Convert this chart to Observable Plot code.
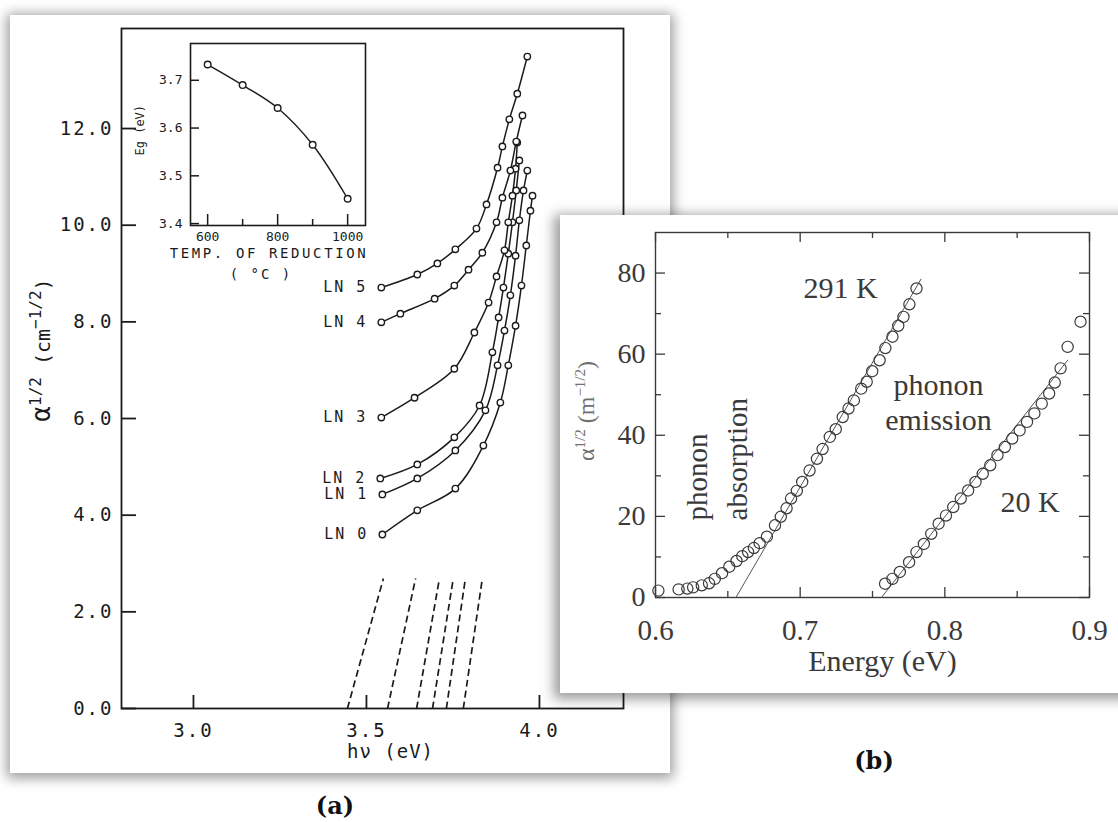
<!DOCTYPE html>
<html><head><meta charset="utf-8">
<script src="https://cdn.jsdelivr.net/npm/d3@7"></script>
<script src="https://cdn.jsdelivr.net/npm/@observablehq/plot@0.6"></script>
<style>
html,body{margin:0;padding:0;background:#fff;}
body{width:1118px;height:822px;overflow:hidden;position:relative;}
.card{position:absolute;background:#fff;}
#cardA{left:10px;top:15px;width:660px;height:758px;box-shadow:0 2px 12px 3px rgba(0,0,0,0.40);}
#cardB{left:560px;top:215px;width:590px;height:478px;box-shadow:-3px 3px 12px 3px rgba(0,0,0,0.40);}
.abs{position:absolute;}
.cap{position:absolute;font-family:"DejaVu Serif",serif;font-weight:bold;font-size:24px;color:#111;transform:translate(-50%,-50%);}
</style></head><body>
<div id="cardA" class="card"></div>
<div id="plotA" class="abs" style="left:0;top:0;width:700px;height:790px"></div>
<div id="inset" class="abs" style="left:120px;top:35px;width:270px;height:255px"></div>
<div id="cardB" class="card"></div>
<div id="plotB" class="abs" style="left:560px;top:215px;width:558px;height:478px"></div>
<div class="cap" style="left:335px;top:805px">(a)</div>
<div class="cap" style="left:874px;top:760px">(b)</div>
<script>
// ---------- Panel (a) data ----------
const yTicksA = [0, 2, 4, 6, 8, 10, 12];
const xTicksA = [3.0, 3.5, 4.0];
const lnNames = ["LN 0", "LN 1", "LN 2", "LN 3", "LN 4", "LN 5"];
const ln0E = [3.546, 3.647, 3.757, 3.838, 3.887, 3.910, 3.931, 3.948, 3.962, 3.974, 3.980];
const ln0A = [3.60, 4.10, 4.55, 5.44, 6.33, 7.10, 7.92, 8.75, 9.58, 10.30, 10.61];
const ln1E = [3.546, 3.647, 3.757, 3.844, 3.879, 3.899, 3.916, 3.931, 3.942, 3.954, 3.965];
const ln1A = [4.43, 4.76, 5.34, 6.17, 7.10, 7.82, 8.55, 9.37, 10.10, 10.72, 11.13];
const ln2E = [3.540, 3.647, 3.754, 3.827, 3.864, 3.882, 3.896, 3.910, 3.922, 3.933, 3.942];
const ln2A = [4.76, 5.05, 5.61, 6.27, 7.37, 8.09, 8.71, 9.41, 10.06, 10.72, 11.34];
const ln3E = [3.543, 3.639, 3.754, 3.812, 3.853, 3.876, 3.899, 3.910, 3.922, 3.931, 3.936];
const ln3A = [6.02, 6.43, 7.03, 7.78, 8.40, 8.94, 9.48, 10.06, 10.61, 11.17, 11.71];
const ln4E = [3.543, 3.598, 3.697, 3.754, 3.795, 3.835, 3.876, 3.893, 3.916, 3.933, 3.951];
const ln4A = [7.99, 8.17, 8.48, 8.75, 9.08, 9.43, 10.06, 10.57, 11.13, 11.73, 12.27];
const ln5E = [3.543, 3.647, 3.705, 3.757, 3.818, 3.847, 3.879, 3.893, 3.913, 3.936, 3.965];
const ln5A = [8.71, 8.98, 9.21, 9.50, 9.93, 10.43, 11.19, 11.63, 12.19, 12.72, 13.49];
const dashBottomE = [3.445, 3.561, 3.645, 3.691, 3.731, 3.780];
const dashTopE = [3.549, 3.642, 3.711, 3.751, 3.786, 3.835];
const dashTopA = 2.69;

// inset
const insetT = [600, 700, 800, 900, 1000];
const insetEg = [3.733, 3.690, 3.642, 3.565, 3.452];
const insetYTicks = [3.4, 3.5, 3.6, 3.7];
const insetXMajor = [600, 800, 1000];
const insetXMinor = [700, 900];

// ---------- Panel (b) data ----------
const k291E = [0.602, 0.616, 0.622, 0.626, 0.632, 0.637, 0.641, 0.646, 0.651, 0.656, 0.660, 0.664, 0.668, 0.672, 0.677, 0.6826, 0.6866, 0.6906, 0.6937, 0.6977, 0.7014, 0.7065, 0.7116, 0.7155, 0.7205, 0.7246, 0.7294, 0.7334, 0.7371, 0.7422, 0.746, 0.7498, 0.7549, 0.7589, 0.7638, 0.7678, 0.7714, 0.7755, 0.7804];
const k291A = [1.7, 2.0, 2.2, 2.5, 3.0, 3.5, 4.6, 6.0, 7.6, 9.0, 10.2, 11.2, 12.2, 13.4, 15.0, 17.8, 19.9, 22.0, 24.4, 26.3, 28.5, 31.3, 34.2, 36.6, 39.6, 41.5, 44.5, 46.6, 48.6, 51.5, 53.2, 55.8, 58.5, 61.5, 64.3, 67.0, 69.2, 72.3, 76.2];
const k20E = [0.7587, 0.7638, 0.7689, 0.7753, 0.7804, 0.7855, 0.7906, 0.7957, 0.8008, 0.8058, 0.811, 0.8161, 0.8212, 0.8262, 0.8314, 0.8364, 0.8415, 0.8466, 0.8517, 0.8568, 0.8619, 0.867, 0.8721, 0.876, 0.880, 0.8849, 0.8938];
const k20A = [3.4, 4.6, 6.3, 8.7, 11.2, 13.2, 15.7, 18.2, 20.2, 22.3, 24.4, 26.4, 28.5, 30.5, 32.6, 35.1, 37.1, 39.2, 41.2, 43.3, 45.4, 47.8, 50.3, 53.0, 56.5, 61.8, 68.0];
const fit291E = [0.6556, 0.7835];
const fit291A = [0, 78.5];
const fit20E = [0.7562, 0.8849];
const fit20A = [0, 58.5];
const yTicksB = [0, 20, 40, 60, 80];
const yMinorB = [10, 30, 50, 70];
const xTicksB = [0.6, 0.7, 0.8, 0.9];
const xMinorB = [0.65, 0.75, 0.85];

// ---------- build tables ----------
const lnE = [ln0E, ln1E, ln2E, ln3E, ln4E, ln5E];
const lnA = [ln0A, ln1A, ln2A, ln3A, ln4A, ln5A];
const seriesA = lnE.flatMap((E, i) => E.map((e, j) => ({s: lnNames[i], e, a: lnA[i][j]})));
const lnStart = lnNames.map((s, i) => ({s, e: lnE[i][0], a: lnA[i][0]}));
const dashes = dashBottomE.map((e0, i) => ({e0, e1: dashTopE[i]}));
const insetRows = insetT.map((t, i) => ({t, eg: insetEg[i]}));
const rows291 = k291E.map((e, i) => ({e, a: k291A[i]}));
const rows20 = k20E.map((e, i) => ({e, a: k20A[i]}));
const fit291 = fit291E.map((e, i) => ({e, a: fit291A[i]}));
const fit20 = fit20E.map((e, i) => ({e, a: fit20A[i]}));

const mono = "'DejaVu Sans Mono', monospace";
const ink = "#1b1b1b";

function spaceText(svg, matcher, px) {
  d3.select(svg).selectAll("text").filter(function() { return matcher(this.textContent); })
    .attr("letter-spacing", px);
}

// ---------- Panel (a) ----------
const WA = 700, HA = 790, mlA = 121, mrA = 77, mtA = 28, mbA = 82;
const pwA = WA - mlA - mrA, phA = HA - mtA - mbA;
const xDomA = [2.792, 4.243];
const plotA = Plot.plot({
  width: WA, height: HA, marginLeft: mlA, marginRight: mrA, marginTop: mtA, marginBottom: mbA,
  x: {domain: xDomA, axis: null},
  y: {domain: [0, 14.07], axis: null},
  style: {background: "transparent", fontFamily: mono, color: ink, overflow: "visible"},
  marks: [
    Plot.frame({stroke: ink, strokeWidth: 1.8}),
    Plot.tickY(yTicksA, {y: d => d, insetRight: pwA - 15, stroke: ink, strokeWidth: 1.8}),
    Plot.tickX(xTicksA, {x: d => d, insetTop: phA - 13, stroke: ink, strokeWidth: 1.8}),
    Plot.text(yTicksA, {x: xDomA[0], y: d => d, text: d => d.toFixed(1), dx: -8, textAnchor: "end", fontSize: 19, fill: ink}),
    Plot.text(xTicksA, {x: d => d, y: 0, text: d => d.toFixed(1), dy: 22, fontSize: 19, fill: ink}),
    Plot.link(dashes, {x1: "e0", y1: 0, x2: "e1", y2: dashTopA, stroke: ink, strokeWidth: 1.7, strokeDasharray: "7,4"}),
    Plot.line(seriesA, {x: "e", y: "a", z: "s", curve: "catmull-rom", stroke: ink, strokeWidth: 1.5}),
    Plot.dot(seriesA, {x: "e", y: "a", r: 3.2, stroke: ink, strokeWidth: 1.4, fill: "white"}),
    Plot.text(lnStart, {x: "e", y: "a", text: "s", dx: -14, textAnchor: "end", fontSize: 15, fill: ink}),
    Plot.text(["hν (eV)"], {frameAnchor: "bottom", dx: 18, dy: 49, fontSize: 19, fill: ink})
  ]
});
document.getElementById("plotA").appendChild(plotA);
spaceText(plotA, s => /^\d+\.\d$/.test(s), 2);
spaceText(plotA, s => s.startsWith("LN"), 2);
spaceText(plotA, s => s.startsWith("h"), 1);
{
  const t = d3.select(plotA).append("text")
    .attr("transform", "translate(50,350) rotate(-90)")
    .attr("text-anchor", "middle").attr("font-size", 20).attr("fill", ink).attr("font-family", mono);
  t.append("tspan").attr("font-size", 26).text("α");
  t.append("tspan").attr("dy", -9).attr("font-size", 16).text("1/2");
  t.append("tspan").attr("dy", 9).text(" (cm");
  t.append("tspan").attr("dy", -9).attr("font-size", 16).text("−1/2");
  t.append("tspan").attr("dy", 9).text(")");
}

// ---------- inset ----------
const WI = 270, HI = 255, mlI = 70, mrI = 25, mtI = 8, mbI = 65;
const pwI = WI - mlI - mrI, phI = HI - mtI - mbI;
const xDomI = [551, 1051], yDomI = [3.396, 3.777];
const plotI = Plot.plot({
  width: WI, height: HI, marginLeft: mlI, marginRight: mrI, marginTop: mtI, marginBottom: mbI,
  x: {domain: xDomI, axis: null},
  y: {domain: yDomI, axis: null},
  style: {background: "transparent", fontFamily: mono, color: ink, overflow: "visible"},
  marks: [
    Plot.frame({stroke: ink, strokeWidth: 1.6, fill: "white"}),
    Plot.tickY(insetYTicks, {y: d => d, insetRight: pwI - 9, stroke: ink, strokeWidth: 1.5}),
    Plot.tickX(insetXMajor, {x: d => d, insetTop: phI - 11, stroke: ink, strokeWidth: 1.5}),
    Plot.tickX(insetXMinor, {x: d => d, insetTop: phI - 6, stroke: ink, strokeWidth: 1.5}),
    Plot.text(insetYTicks, {x: xDomI[0], y: d => d, text: d => d.toFixed(1), dx: -8, textAnchor: "end", fontSize: 13, fill: ink}),
    Plot.text(insetXMajor, {x: d => d, y: yDomI[0], text: d => String(d), dy: 11, fontSize: 13, fill: ink}),
    Plot.line(insetRows, {x: "t", y: "eg", curve: "catmull-rom", stroke: ink, strokeWidth: 1.4}),
    Plot.dot(insetRows, {x: "t", y: "eg", r: 3.3, stroke: ink, strokeWidth: 1.4, fill: "white"}),
    Plot.text(["TEMP. OF REDUCTION"], {frameAnchor: "bottom", dx: -9, dy: 32, fontSize: 14, fill: ink}),
    Plot.text(["( °C )"], {frameAnchor: "bottom", dx: -17, dy: 53, fontSize: 14, fill: ink}),
    Plot.text(["Eg (eV)"], {frameAnchor: "left", dx: -50, dy: 21, rotate: -90, fontSize: 12, fill: ink})
  ]
});
document.getElementById("inset").appendChild(plotI);
spaceText(plotI, s => s.startsWith("TEMP"), 2.6);
spaceText(plotI, s => s.startsWith("("), 2);

// ---------- Panel (b) ----------
const serif = "'Liberation Serif', 'Times New Roman', serif";
const inkB = "#3a3a3a";
const WB = 558, HB = 478, mlB = 95, mrB = 29, mtB = 17, mbB = 96;
const pwB = WB - mlB - mrB, phB = HB - mtB - mbB;
const xDomB = [0.6, 0.9], yDomB = [0, 90];
const plotB = Plot.plot({
  width: WB, height: HB, marginLeft: mlB, marginRight: mrB, marginTop: mtB, marginBottom: mbB,
  x: {domain: xDomB, axis: null},
  y: {domain: yDomB, axis: null},
  style: {background: "transparent", fontFamily: serif, color: inkB, overflow: "visible"},
  marks: [
    Plot.frame({stroke: inkB, strokeWidth: 1.4}),
    Plot.tickY(yTicksB, {y: d => d, insetRight: pwB - 10, stroke: inkB, strokeWidth: 1.3}),
    Plot.tickY(yTicksB, {y: d => d, insetLeft: pwB - 10, stroke: inkB, strokeWidth: 1.3}),
    Plot.tickY(yMinorB, {y: d => d, insetRight: pwB - 6, stroke: inkB, strokeWidth: 1.3}),
    Plot.tickY(yMinorB, {y: d => d, insetLeft: pwB - 6, stroke: inkB, strokeWidth: 1.3}),
    Plot.tickX(xTicksB, {x: d => d, insetTop: phB - 10, stroke: inkB, strokeWidth: 1.3}),
    Plot.tickX(xTicksB, {x: d => d, insetBottom: phB - 10, stroke: inkB, strokeWidth: 1.3}),
    Plot.tickX(xMinorB, {x: d => d, insetTop: phB - 6, stroke: inkB, strokeWidth: 1.3}),
    Plot.tickX(xMinorB, {x: d => d, insetBottom: phB - 6, stroke: inkB, strokeWidth: 1.3}),
    Plot.text(yTicksB, {x: xDomB[0], y: d => d, text: d => String(d), dx: -10, textAnchor: "end", fontSize: 28, fill: inkB}),
    Plot.text(xTicksB, {x: d => d, y: 0, text: d => d.toFixed(1), dy: 33, fontSize: 29, fill: inkB}),
    Plot.line(fit291, {x: "e", y: "a", stroke: "#555", strokeWidth: 1}),
    Plot.line(fit20, {x: "e", y: "a", stroke: "#555", strokeWidth: 1}),
    Plot.dot(rows291, {x: "e", y: "a", r: 5.6, stroke: inkB, strokeWidth: 1.2, fill: "none"}),
    Plot.dot(rows20, {x: "e", y: "a", r: 5.6, stroke: inkB, strokeWidth: 1.2, fill: "none"}),
    Plot.text(["291 K"], {x: 0.728, y: 76.3, fontSize: 30, fill: inkB}),
    Plot.text(["phonon"], {x: 0.7956, y: 52.3, fontSize: 30, fill: inkB}),
    Plot.text(["emission"], {x: 0.7956, y: 43.7, fontSize: 30, fill: inkB}),
    Plot.text(["20 K"], {x: 0.859, y: 23.5, fontSize: 30, fill: inkB}),
    Plot.text(["phonon"], {x: 0.629, y: 19, rotate: -90, textAnchor: "start", fontSize: 29, fill: inkB}),
    Plot.text(["absorption"], {x: 0.6567, y: 19, rotate: -90, textAnchor: "start", fontSize: 29, fill: inkB}),
    Plot.text(["Energy (eV)"], {frameAnchor: "bottom", dx: 10, dy: 73, fontSize: 30, fill: inkB})
  ]
});
document.getElementById("plotB").appendChild(plotB);
{
  const t = d3.select(plotB).append("text")
    .attr("transform", "translate(34,196) rotate(-90)")
    .attr("text-anchor", "middle").attr("font-size", 24).attr("fill", "#707070").attr("font-family", serif);
  t.append("tspan").text("α");
  t.append("tspan").attr("dy", -9).attr("font-size", 15).text("1/2");
  t.append("tspan").attr("dy", 9).text(" (m");
  t.append("tspan").attr("dy", -9).attr("font-size", 15).text("−1/2");
  t.append("tspan").attr("dy", 9).text(")");
}
</script>
</body></html>
